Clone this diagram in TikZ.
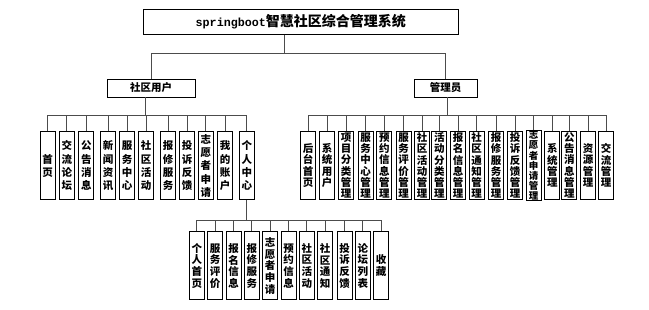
\documentclass[tikz,border=0pt]{standalone}
\usepackage{fontspec}
\setmainfont{Noto Sans CJK SC}
\newfontfamily\latinmono{Liberation Mono}
\begin{document}
\begin{tikzpicture}[x=1pt,y=-1pt,
  box/.style={draw=black,line width=0.8pt,fill=white,inner sep=0pt,align=center},
  topbox/.style={box,minimum width=315pt,minimum height=25pt,font=\bfseries\fontsize{14}{16}\selectfont},
  midbox/.style={box,minimum height=18pt,font=\bfseries\fontsize{10.5}{12}\selectfont},
  leafu/.style={box,minimum width=15pt,minimum height=68pt,font=\bfseries\fontsize{10.5}{13.3}\selectfont},
  leafa/.style={box,minimum width=15pt,minimum height=68pt,font=\bfseries\fontsize{10.5}{11.3}\selectfont},
  leafs/.style={box,minimum width=15pt,minimum height=68pt,font=\bfseries\fontsize{9.5}{10.2}\selectfont},
  leafl/.style={box,minimum width=15pt,minimum height=68pt,font=\bfseries\fontsize{10.5}{11.7}\selectfont},
  conn/.style={draw=black!70,line width=0.8pt}]
\useasboundingbox (0,0) rectangle (649,309);

% top
\node[topbox] (sys) at (300.8,21.7) {{\latinmono\bfseries\fontsize{11.7}{14}\selectfont springboot}智慧社区综合管理系统};
\node[midbox,minimum width=88pt] (user) at (151,88) {社区用户};
\node[midbox,minimum width=63pt] (admin) at (445.5,88) {管理员};

\coordinate (tbar) at (284.3,53.3);
\coordinate (ubar) at (145.7,115.7);
\coordinate (abar) at (447.5,115.7);
\coordinate (lbar) at (246.7,220.7);

% user children
\node[leafu] (u1) at (47.7,165.8) {首\\页};
\node[leafu] (u2) at (66.8,165.8) {交\\流\\论\\坛};
\node[leafu] (u3) at (86.3,165.8) {公\\告\\消\\息};
\node[leafu] (u4) at (108.2,165.8) {新\\闻\\资\\讯};
\node[leafu] (u5) at (127,165.8) {服\\务\\中\\心};
\node[leafu] (u6) at (146.2,165.8) {社\\区\\活\\动};
\node[leafu] (u7) at (168,165.8) {报\\修\\服\\务};
\node[leafu] (u8) at (187.2,165.8) {投\\诉\\反\\馈};
\node[leafu] (u9) at (205.8,165.8) {志\\愿\\者\\申\\请};
\node[leafu] (u10) at (225,165.8) {我\\的\\账\\户};
\node[leafu] (u11) at (246.8,165.8) {个\\人\\中\\心};

% admin children
\node[leafa] (a1) at (308,165.5) {后\\台\\首\\页};
\node[leafa] (a2) at (327,165.5) {系\\统\\用\\户};
\node[leafa] (a3) at (346.2,165.5) {项\\目\\分\\类\\管\\理};
\node[leafa] (a4) at (365.5,165.5) {服\\务\\中\\心\\管\\理};
\node[leafa] (a5) at (384.3,165.5) {预\\约\\信\\息\\管\\理};
\node[leafa] (a6) at (403.7,165.5) {服\\务\\评\\价\\管\\理};
\node[leafa] (a7) at (422,165.5) {社\\区\\活\\动\\管\\理};
\node[leafa] (a8) at (439.3,165.5) {活\\动\\分\\类\\管\\理};
\node[leafa] (a9) at (458,165.5) {报\\名\\信\\息\\管\\理};
\node[leafa] (a10) at (476.7,165.5) {社\\区\\通\\知\\管\\理};
\node[leafa] (a11) at (496,165.5) {报\\修\\服\\务\\管\\理};
\node[leafa] (a12) at (515,165.5) {投\\诉\\反\\馈\\管\\理};
\node[leafs] (a13) at (533.7,165.5) {志\\愿\\者\\申\\请\\管\\理};
\node[leafa] (a14) at (552.3,165.5) {系\\统\\管\\理};
\node[leafa] (a15) at (569.3,165.5) {公\\告\\消\\息\\管\\理};
\node[leafa] (a16) at (588,165.5) {资\\源\\管\\理};
\node[leafa] (a17) at (606,165.5) {交\\流\\管\\理};

% personal center children
\node[leafl] (p1) at (196.8,265.8) {个\\人\\首\\页};
\node[leafl] (p2) at (215.2,265.8) {服\\务\\评\\价};
\node[leafl] (p3) at (233.5,265.8) {报\\名\\信\\息};
\node[leafl] (p4) at (251.8,265.8) {报\\修\\服\\务};
\node[leafl] (p5) at (270.2,265.8) {志\\愿\\者\\申\\请};
\node[leafl] (p6) at (288.5,265.8) {预\\约\\信\\息};
\node[leafl] (p7) at (306.8,265.8) {社\\区\\活\\动};
\node[leafl] (p8) at (325.2,265.8) {社\\区\\通\\知};
\node[leafl] (p9) at (344.5,265.8) {投\\诉\\反\\馈};
\node[leafl] (p10) at (362.8,265.8) {论\\坛\\列\\表};
\node[leafl] (p11) at (381.2,265.8) {收\\藏};

% connectors: top level
\draw[conn] (sys.south -| tbar) -- (tbar);
\draw[conn] (user.north) -- (user.north |- tbar) -| (admin.north);

% user tier
\draw[conn] (user.south -| ubar) -- (ubar);
\draw[conn] (u1.north) -- (u1.north |- ubar) -| (u11.north);
\foreach \i in {2,...,10} \draw[conn] (u\i.north) -- (u\i.north |- ubar);

% admin tier
\draw[conn] (admin.south -| abar) -- (abar);
\draw[conn] (a1.north) -- (a1.north |- abar) -| (a17.north);
\foreach \i in {2,...,16} \draw[conn] (a\i.north) -- (a\i.north |- abar);

% personal center tier
\draw[conn] (u11.south -| lbar) -- (lbar);
\draw[conn] (p1.north) -- (p1.north |- lbar) -| (p11.north);
\foreach \i in {2,...,10} \draw[conn] (p\i.north) -- (p\i.north |- lbar);
\end{tikzpicture}
\end{document}
